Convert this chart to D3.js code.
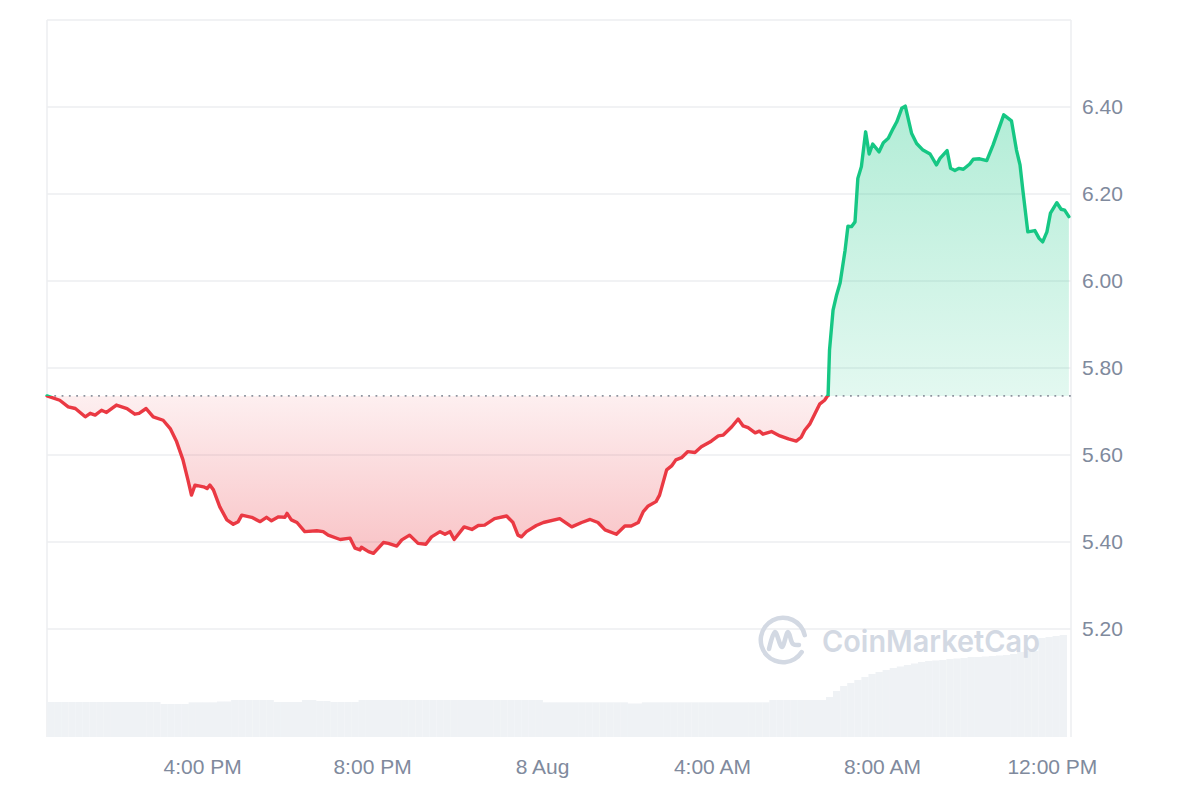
<!DOCTYPE html>
<html>
<head>
<meta charset="utf-8">
<script src="https://cdn.jsdelivr.net/npm/d3@7"></script>
<style>
  body { margin: 0; background: #fff; }
</style>
</head>
<body>
<div id="chart"></div>
<script>
// ---- Data ----
const startTime = new Date(2024, 7, 7, 12, 21);   // first price sample
const endTime   = new Date(2024, 7, 8, 12, 27);   // right edge of the plot

// minutes after startTime
const priceMinutes = [
  0, 18, 30, 40, 54, 61, 68, 77, 84, 98,
  113, 124, 130, 140, 150, 164, 174, 183, 192, 199,
  204, 209, 221, 226, 230, 235, 244, 254, 263, 270,
  275, 289, 301, 310, 317, 327, 336, 339, 345, 353,
  364, 381, 390, 397, 414, 428, 435, 442, 444, 454,
  461, 475, 482, 494, 501, 512, 524, 535, 543, 555,
  562, 569, 575, 589, 600, 609, 618, 632, 649, 658,
  665, 670, 677, 691, 701, 724, 741, 755, 767, 778,
  788, 804, 816, 825, 835, 842, 849, 860, 865, 875,
  882, 888, 896, 905, 915, 924, 938, 948, 955, 967,
  976, 983, 990, 1000, 1006, 1011, 1023, 1035, 1047, 1058,
  1065, 1070, 1077, 1084, 1091, 1098, 1103, 1105, 1110, 1115,
  1120, 1127, 1131, 1136, 1141, 1145, 1150, 1156, 1161, 1166,
  1175, 1181, 1188, 1195, 1200, 1207, 1212, 1221, 1228, 1237,
  1247, 1256, 1261, 1271, 1276, 1282, 1288, 1294, 1303, 1308,
  1317, 1327, 1336, 1351, 1362, 1369, 1374, 1378, 1385, 1395,
  1401, 1406, 1412, 1417, 1426, 1432, 1437, 1443
];
const priceValues = [
  5.736, 5.726, 5.711, 5.707, 5.688, 5.696, 5.692, 5.703, 5.698, 5.715,
  5.707, 5.694, 5.696, 5.707, 5.688, 5.680, 5.661, 5.631, 5.589, 5.543,
  5.508, 5.531, 5.527, 5.523, 5.531, 5.520, 5.481, 5.451, 5.441, 5.447,
  5.462, 5.457, 5.447, 5.457, 5.449, 5.458, 5.457, 5.466, 5.451, 5.445,
  5.424, 5.426, 5.424, 5.416, 5.406, 5.409, 5.386, 5.382, 5.388, 5.378,
  5.374, 5.399, 5.397, 5.391, 5.405, 5.416, 5.397, 5.395, 5.412, 5.424,
  5.418, 5.424, 5.406, 5.435, 5.429, 5.438, 5.439, 5.454, 5.460, 5.445,
  5.416, 5.412, 5.424, 5.438, 5.445, 5.454, 5.435, 5.445, 5.452, 5.445,
  5.428, 5.418, 5.437, 5.437, 5.445, 5.470, 5.483, 5.493, 5.508, 5.566,
  5.575, 5.589, 5.594, 5.608, 5.606, 5.619, 5.632, 5.644, 5.646, 5.665,
  5.683, 5.667, 5.663, 5.651, 5.655, 5.648, 5.654, 5.644, 5.637, 5.632,
  5.641, 5.657, 5.671, 5.694, 5.717, 5.726, 5.738, 5.841, 5.933, 5.968,
  5.996, 6.071, 6.126, 6.125, 6.136, 6.236, 6.263, 6.343, 6.292, 6.315,
  6.297, 6.318, 6.328, 6.351, 6.366, 6.397, 6.402, 6.339, 6.316, 6.301,
  6.292, 6.267, 6.282, 6.300, 6.259, 6.254, 6.259, 6.257, 6.269, 6.280,
  6.281, 6.277, 6.313, 6.382, 6.368, 6.301, 6.267, 6.209, 6.113, 6.116,
  6.098, 6.090, 6.113, 6.156, 6.180, 6.165, 6.163, 6.148
];

// volume, one bar every 10 minutes (relative units)
const volumeStep = 10;
const volumeValues = [
  35, 35, 35, 35, 35, 35, 35, 35, 35, 35,
  35, 35, 35, 35, 35, 35, 33, 33, 33, 33,
  34.7, 34.7, 34.7, 34.7, 35.5, 35.5, 37, 37, 37, 37,
  37, 37, 35, 35, 35, 35, 37, 37, 36, 36,
  35, 35, 35, 35, 37, 37, 37, 37, 37, 37,
  37, 37, 37, 37, 37, 37, 37, 37, 37, 37,
  37, 37, 37, 37, 37, 37, 37, 37, 37, 37,
  34.7, 34.7, 34.7, 34.7, 34.7, 34.7, 34.7, 34.7, 34.7, 34.7,
  34.7, 34.7, 33.5, 33.5, 34.7, 34.7, 34.7, 34.7, 34.7, 34.7,
  34.7, 34.7, 34.7, 34.7, 34.7, 34.7, 34.7, 34.7, 34.7, 34.7,
  34.7, 34.7, 37, 37, 37, 37, 37, 37, 37, 37,
  40, 46, 51, 54, 57, 60, 63, 65, 67, 69,
  70.5, 72, 73.5, 75, 76, 76.5, 77, 78, 78.5, 79,
  80, 80, 80.5, 81, 81.5, 82, 83, 85, 86, 86,
  99, 100, 101, 102
];

const yTickValues = [5.2, 5.4, 5.6, 5.8, 6.0, 6.2, 6.4];
const gridValues  = [5.2, 5.4, 5.6, 5.8, 6.0, 6.2, 6.4, 6.6];
const xTickTimes  = [
  new Date(2024, 7, 7, 16), new Date(2024, 7, 7, 20), new Date(2024, 7, 8, 0),
  new Date(2024, 7, 8, 4),  new Date(2024, 7, 8, 8),  new Date(2024, 7, 8, 12)
];
const xTickLabels = ["4:00 PM", "8:00 PM", "8 Aug", "4:00 AM", "8:00 AM", "12:00 PM"];

// ---- Layout ----
const W = 1200, H = 800;
const plotLeft = 47, plotRight = 1071, plotTop = 20, plotBottom = 737;
const RED = "#ea3943", GREEN = "#16c784", LABEL = "#808a9d";

const svg = d3.select("#chart").append("svg")
  .attr("width", W).attr("height", H)
  .style("font-family", "'Liberation Sans', Arial, sans-serif");

const x = d3.scaleTime().domain([startTime, endTime]).range([plotLeft, plotRight]);
const y = d3.scaleLinear().domain([4.952, 6.6]).range([plotBottom, plotTop]);
const yVol = d3.scaleLinear().domain([0, 120]).range([plotBottom, plotBottom - 120]);

const data = priceMinutes.map((m, i) => ({ t: d3.timeMinute.offset(startTime, m), p: priceValues[i] }));
const baseline = priceValues[0];
const baseY = y(baseline);

// ---- Grid + frame ----
svg.append("g").selectAll("line")
  .data(gridValues)
  .join("line")
  .attr("x1", plotLeft).attr("x2", plotRight)
  .attr("y1", d => y(d)).attr("y2", d => y(d))
  .attr("stroke", "#eceef1").attr("stroke-width", 1.5);

[plotLeft, plotRight].forEach(xx => {
  svg.append("line")
    .attr("x1", xx).attr("x2", xx).attr("y1", plotTop).attr("y2", plotBottom)
    .attr("stroke", "#eceef1").attr("stroke-width", 1.5);
});

// ---- Volume bars ----
const volX = i => x(d3.timeMinute.offset(startTime, i * volumeStep));
svg.append("g").selectAll("rect")
  .data(volumeValues)
  .join("rect")
  .attr("x", (d, i) => volX(i))
  .attr("width", (d, i) => volX(i + 1) - volX(i) + 0.2)
  .attr("y", d => yVol(d))
  .attr("height", d => plotBottom - yVol(d))
  .attr("fill", "#eff2f5");

// ---- Watermark ----
const wm = svg.append("g").attr("fill", "#d3d9e3");
const logo = wm.append("g").attr("transform", "translate(783,640)");
logo.append("path")
  .attr("d", d3.arc().innerRadius(20).outerRadius(24.5)
    .startAngle(2.05).endAngle(2 * Math.PI + 1.45).cornerRadius(2)());
logo.append("path")
  .attr("d", d3.line().curve(d3.curveCatmullRom)([[-14, 9], [-8, -8], [-1, 7], [5, -8], [10, 4], [16, 5]]))
  .attr("fill", "none").attr("stroke", "#d3d9e3").attr("stroke-width", 4.5)
  .attr("stroke-linecap", "round").attr("stroke-linejoin", "round");
wm.append("text")
  .attr("x", 822).attr("y", 652)
  .attr("font-family", "Inter, 'Noto Sans', sans-serif")
  .attr("font-weight", 600).attr("font-size", 30)
  .attr("textLength", 218).attr("lengthAdjust", "spacingAndGlyphs")
  .text("CoinMarketCap");

// ---- Gradients + clips ----
const defs = svg.append("defs");
const gGreen = defs.append("linearGradient").attr("id", "gGreen")
  .attr("gradientUnits", "userSpaceOnUse")
  .attr("x1", 0).attr("x2", 0).attr("y1", y(6.4)).attr("y2", baseY);
gGreen.append("stop").attr("offset", 0).attr("stop-color", GREEN).attr("stop-opacity", 0.33);
gGreen.append("stop").attr("offset", 1).attr("stop-color", GREEN).attr("stop-opacity", 0.12);

const gRed = defs.append("linearGradient").attr("id", "gRed")
  .attr("gradientUnits", "userSpaceOnUse")
  .attr("x1", 0).attr("x2", 0).attr("y1", baseY).attr("y2", y(d3.min(priceValues)));
gRed.append("stop").attr("offset", 0).attr("stop-color", RED).attr("stop-opacity", 0.08);
gRed.append("stop").attr("offset", 1).attr("stop-color", RED).attr("stop-opacity", 0.3);

defs.append("clipPath").attr("id", "clipUp")
  .append("rect").attr("x", 0).attr("y", 0).attr("width", W).attr("height", baseY);
defs.append("clipPath").attr("id", "clipDown")
  .append("rect").attr("x", 0).attr("y", baseY).attr("width", W).attr("height", H - baseY);

const area = d3.area().x(d => x(d.t)).y0(baseY).y1(d => y(d.p));
const line = d3.line().x(d => x(d.t)).y(d => y(d.p));

svg.append("path").datum(data).attr("d", area)
  .attr("fill", "url(#gGreen)").attr("clip-path", "url(#clipUp)");
svg.append("path").datum(data).attr("d", area)
  .attr("fill", "url(#gRed)").attr("clip-path", "url(#clipDown)");

// dotted reference line at the opening price
svg.append("line")
  .attr("x1", plotLeft).attr("x2", plotRight)
  .attr("y1", baseY).attr("y2", baseY)
  .attr("stroke", "#8d939e").attr("stroke-width", 1.6)
  .attr("stroke-dasharray", "1.8,5.5");

svg.append("path").datum(data).attr("d", line)
  .attr("fill", "none").attr("stroke", GREEN).attr("stroke-width", 3.4)
  .attr("stroke-linejoin", "round").attr("stroke-linecap", "round")
  .attr("clip-path", "url(#clipUp)");
svg.append("path").datum(data).attr("d", line)
  .attr("fill", "none").attr("stroke", RED).attr("stroke-width", 3.4)
  .attr("stroke-linejoin", "round").attr("stroke-linecap", "round")
  .attr("clip-path", "url(#clipDown)");

// ---- Axes ----
const yAxis = d3.axisRight(y).tickValues(yTickValues).tickFormat(d3.format(".2f")).tickSize(0).tickPadding(11);
svg.append("g")
  .attr("transform", `translate(${plotRight},0)`)
  .call(yAxis)
  .call(g => g.select(".domain").remove())
  .call(g => g.selectAll("text").attr("fill", LABEL).attr("font-size", 21)
    .style("font-family", "'Liberation Sans', Arial, sans-serif"));

const xAxis = d3.axisBottom(x).tickValues(xTickTimes)
  .tickFormat((d, i) => xTickLabels[i]).tickSize(0).tickPadding(22);
svg.append("g")
  .attr("transform", `translate(0,${plotBottom})`)
  .call(xAxis)
  .call(g => g.select(".domain").remove())
  .call(g => g.selectAll("text").attr("fill", LABEL).attr("font-size", 21)
    .style("font-family", "'Liberation Sans', Arial, sans-serif"));
</script>
</body>
</html>
